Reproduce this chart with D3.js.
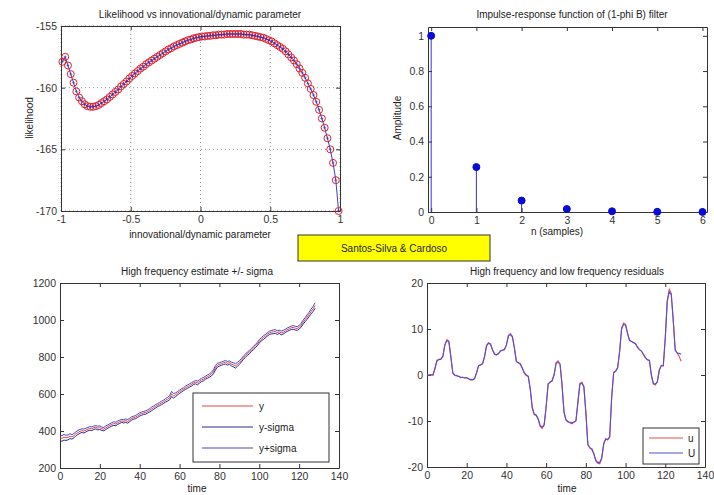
<!DOCTYPE html>
<html>
<head>
<meta charset="utf-8">
<script src="https://cdn.jsdelivr.net/npm/d3@7"></script>
<style>
  body { margin: 0; background: #fff; }
  svg { font-family: "Liberation Sans", Arial, sans-serif; }
  .tick text { fill: #333; font-size: 10.5px; }
  .ttl { font-size: 10px; fill: #222; }
</style>
</head>
<body>
<svg width="714" height="495"></svg>
<script>
// likelihood at parameter = -0.99, -0.97, ..., 0.99
let likelihood = [
  -157.9, -157.5, -158.2, -158.9, -159.6, -160.3, -160.8, -161.1, -161.35, -161.5,
  -161.55, -161.55, -161.5, -161.4, -161.25, -161.1, -160.95, -160.75, -160.55, -160.35,
  -160.15, -159.9, -159.7, -159.5, -159.25, -159.05, -158.85, -158.65, -158.45, -158.3,
  -158.1, -157.95, -157.8, -157.65, -157.5, -157.35, -157.2, -157.05, -156.9, -156.8,
  -156.65, -156.55, -156.45, -156.35, -156.25, -156.15, -156.1, -156.0, -155.95, -155.9,
  -155.85, -155.85, -155.8, -155.8, -155.75, -155.75, -155.7, -155.7, -155.7, -155.65,
  -155.65, -155.65, -155.65, -155.65, -155.65, -155.7, -155.7, -155.7, -155.75, -155.8,
  -155.85, -155.9, -155.95, -156.05, -156.15, -156.25, -156.4, -156.55, -156.7, -156.85,
  -157.05, -157.3, -157.55, -157.8, -158.1, -158.45, -158.8, -159.2, -159.65, -160.1,
  -160.6, -161.15, -161.8, -162.5, -163.25, -164.1, -165.0, -166.1, -167.5, -170.0
];
let paramStart = -0.99;
let paramStep = 0.02;

let samples = [0, 1, 2, 3, 4, 5, 6];
let impulse = [1, 0.255, 0.065, 0.017, 0.004, 0.001, 0.0003];

// time = 0..128
let yEst = [
  362, 360, 366, 363, 365, 372, 368, 375, 385, 392, 398, 402, 400, 405, 410, 414, 412, 418, 420, 416,
  418, 412, 410, 418, 424, 430, 436, 440, 438, 445, 450, 455, 452, 456, 452, 460, 468, 472, 476, 482,
  490, 494, 498, 500, 506, 512, 520, 526, 534, 540, 546, 552, 558, 566, 572, 580, 600, 590, 596, 604,
  612, 620, 626, 634, 640, 646, 652, 660, 664, 660, 668, 676, 680, 688, 694, 700, 708, 720, 742, 756,
  760, 764, 768, 772, 766, 770, 762, 758, 752, 760, 770, 782, 796, 806, 818, 826, 838, 848, 858, 870,
  884, 896, 904, 912, 922, 930, 934, 936, 938, 932, 936, 930, 934, 940, 948, 952, 958, 960, 956, 954,
  960, 972, 988, 1002, 1016, 1030, 1046, 1060, 1078
];
let sigma = [
  16, 15, 15, 14, 13, 13, 12, 12, 11, 11, 10, 10, 11, 10, 9, 10, 10, 9, 9, 10,
  10, 9, 9, 10, 9, 9, 9, 10, 9, 9, 9, 8, 9, 9, 10, 9, 9, 8, 9, 9,
  9, 9, 8, 9, 9, 9, 10, 9, 9, 8, 9, 9, 9, 9, 10, 11, 14, 12, 10, 9,
  9, 9, 8, 9, 9, 9, 9, 8, 9, 10, 9, 9, 9, 8, 9, 9, 10, 11, 12, 10,
  9, 9, 9, 10, 10, 9, 10, 11, 12, 11, 10, 9, 9, 9, 9, 9, 8, 9, 9, 9,
  9, 9, 10, 9, 9, 9, 9, 10, 10, 10, 9, 10, 10, 9, 9, 9, 9, 10, 10, 10,
  10, 10, 11, 11, 12, 12, 13, 14, 15
];

let uHigh = [
  0, 0, 0.1, 0, 1.3, 3.0, 3.4, 3.5, 4.2, 6.6, 7.7, 7.4, 4.0, 0.4, -0.1, -0.2, -0.3, -0.6, -0.5, -0.7,
  -0.6, -0.9, -1.1, -1.1, -0.7, 0.6, 2.1, 2.2, 2.5, 4.1, 6.5, 7.0, 6.7, 5.4, 4.5, 4.3, 4.7, 5.3, 5.4, 5.6,
  6.6, 8.6, 9.0, 8.4, 5.8, 2.9, 2.7, 2.4, 1.4, 0.4, -0.1, -0.3, -3.2, -7.2, -8.6, -8.8, -9.7, -11.2, -11.6, -10.9,
  -6.8, -1.9, -1.6, -1.2, 0.1, 2.7, 3.1, 2.4, -2.2, -8.2, -9.9, -10.2, -10.4, -10.6, -10.3, -9.9, -5.8, -1.8, -1.6, -2.6,
  -8.3, -15.2, -15.9, -16.2, -17.2, -18.7, -19.2, -19.3, -18.1, -14.8, -13.8, -14.1, -13.4, -4.8, 0.6, 0.9, 1.6, 5.2, 10.2, 11.3,
  11.0, 9.1, 7.6, 7.3, 7.1, 6.8, 6.1, 5.5, 5.2, 4.4, 3.7, 3.3, 3.1, -0.2, -2.0, -2.2, -1.4, 1.2, 2.1, 2.0,
  8.2, 16.3, 18.6, 17.8, 11.8, 5.3, 4.8, 4.0, 3.0
];
let uLow = [
  0, 0, 0, 0, 1.5, 3.2, 3.3, 3.4, 4.0, 6.5, 7.5, 7.2, 4.0, 0.5, 0.0, -0.1, -0.3, -0.5, -0.5, -0.6,
  -0.6, -0.8, -1.0, -1.0, -0.8, 0.5, 2.0, 2.2, 2.4, 4.0, 6.3, 6.9, 6.7, 5.5, 4.6, 4.4, 4.6, 5.2, 5.4, 5.5,
  6.5, 8.5, 8.8, 8.3, 6.0, 3.0, 2.6, 2.4, 1.5, 0.5, 0.0, -0.3, -3.0, -7.0, -8.5, -8.7, -9.5, -11.0, -11.3, -10.8,
  -7.0, -2.0, -1.5, -1.3, 0.0, 2.5, 2.8, 2.3, -2.0, -8.0, -9.7, -10.1, -10.3, -10.4, -10.2, -10.0, -6.0, -2.0, -1.8, -2.5,
  -8.0, -15.0, -15.8, -16.0, -17.0, -18.5, -19.0, -19.0, -18.0, -15.0, -14.0, -14.0, -13.5, -5.0, 0.5, 0.8, 1.5, 5.0, 10.0, 11.0,
  10.8, 9.0, 7.5, 7.3, 7.0, 6.8, 6.0, 5.5, 5.2, 4.5, 3.8, 3.3, 3.2, 0.0, -1.8, -2.0, -1.5, 1.0, 2.0, 2.0,
  8.0, 16.0, 18.0, 17.5, 12.0, 5.5, 4.8, 4.7, 4.5
];

let svg = d3.select('svg');

// plain hyphen minus, like the original figure
let fmt = d => d3.format('~g')(d).replace('\u2212', '-');

// one MATLAB-like axes box: inward ticks on all four sides
function makeAxes(left, top, width, height, xDom, yDom, xTicks, yTicks, grid) {
    let g = svg.append('g').attr('transform', `translate(${left}, ${top})`);
    let x = d3.scaleLinear().domain(xDom).range([0, width]);
    let y = d3.scaleLinear().domain(yDom).range([height, 0]);

    g.append('rect').attr('width', width).attr('height', height)
        .attr('fill', '#fff');

    if (grid) {
        g.append('g').selectAll('line').data(xTicks).enter().append('line')
            .attr('x1', d => x(d)).attr('x2', d => x(d))
            .attr('y1', 0).attr('y2', height)
            .attr('stroke', '#777').attr('stroke-width', 0.8).attr('stroke-dasharray', '1,3');
        g.append('g').selectAll('line').data(yTicks).enter().append('line')
            .attr('x1', 0).attr('x2', width)
            .attr('y1', d => y(d)).attr('y2', d => y(d))
            .attr('stroke', '#777').attr('stroke-width', 0.8).attr('stroke-dasharray', '1,3');
    }

    let axes = [
        g.append('g').attr('transform', `translate(0, ${height})`)
            .call(d3.axisBottom(x).tickValues(xTicks).tickFormat(fmt).tickSizeInner(-4).tickSizeOuter(0).tickPadding(5)),
        g.append('g')
            .call(d3.axisTop(x).tickValues(xTicks).tickFormat('').tickSizeInner(-4).tickSizeOuter(0)),
        g.append('g')
            .call(d3.axisLeft(y).tickValues(yTicks).tickFormat(fmt).tickSizeInner(-4).tickSizeOuter(0).tickPadding(4)),
        g.append('g').attr('transform', `translate(${width}, 0)`)
            .call(d3.axisRight(y).tickValues(yTicks).tickFormat('').tickSizeInner(-4).tickSizeOuter(0))
    ];
    axes.forEach(a => {
        a.selectAll('path, line').attr('stroke', '#333');
        a.selectAll('text').attr('font-family', null).attr('font-size', null);
    });
    let plot = g.append('g');
    return { g: g, plot: plot, x: x, y: y, width: width, height: height };
}

function label(text, x, y, rotate) {
    let t = svg.append('text').attr('class', 'ttl').attr('text-anchor', 'middle').text(text);
    if (rotate) {
        t.attr('transform', `translate(${x}, ${y}) rotate(-90)`);
    } else {
        t.attr('x', x).attr('y', y);
    }
}

// ---- top left: likelihood
let a1 = makeAxes(61, 26, 279, 185, [-1, 1], [-170, -155], [-1, -0.5, 0, 0.5, 1], [-170, -165, -160, -155], true);
let likePts = likelihood.map((v, i) => ({ p: paramStart + i * paramStep, v: v }));
a1.plot.append('path')
    .datum(likePts)
    .attr('fill', 'none').attr('stroke', '#2a2ab8').attr('stroke-width', 0.9)
    .attr('d', d3.line().x(d => a1.x(d.p)).y(d => a1.y(d.v)));
a1.plot.selectAll('circle').data(likePts).enter().append('circle')
    .attr('cx', d => a1.x(d.p)).attr('cy', d => a1.y(d.v)).attr('r', 3.5)
    .attr('fill', 'none').attr('stroke', '#e0202a').attr('stroke-width', 1);
a1.plot.selectAll('path.plus').data(likePts).enter().append('path')
    .attr('class', 'plus')
    .attr('d', d => `M${a1.x(d.p) - 1.5},${a1.y(d.v)}h3M${a1.x(d.p)},${a1.y(d.v) - 1.5}v3`)
    .attr('stroke', '#2a2ab8').attr('stroke-width', 0.6);
label('Likelihood vs innovational/dynamic parameter', 200, 18);
label('innovational/dynamic parameter', 200, 238);
label('likelihood', 33, 118, true);

// ---- top right: impulse response (stem)
let a2 = makeAxes(428, 27, 279, 185, [-0.07, 6.1], [0, 1.05], samples, [0, 0.2, 0.4, 0.6, 0.8, 1], false);
let stems = a2.plot.selectAll('g').data(samples).enter().append('g');
stems.append('line')
    .attr('x1', d => a2.x(d)).attr('x2', d => a2.x(d))
    .attr('y1', a2.y(0)).attr('y2', (d, i) => a2.y(impulse[i]))
    .attr('stroke', '#3333cc').attr('stroke-width', 1);
stems.append('circle')
    .attr('cx', d => a2.x(d)).attr('cy', (d, i) => a2.y(impulse[i])).attr('r', 3.5)
    .attr('fill', '#0a0ad8').attr('stroke', '#0a0ad8');
label('Impulse-response function of (1-phi B) filter', 572, 18);
label('n (samples)', 557, 235);
label('Amplitude', 401, 118, true);

// ---- yellow note
svg.append('rect').attr('x', 298).attr('y', 235).attr('width', 192).attr('height', 26)
    .attr('fill', '#ffff00').attr('stroke', '#333').attr('stroke-width', 1);
svg.append('text').attr('class', 'ttl').attr('x', 394).attr('y', 252)
    .attr('text-anchor', 'middle').text('Santos-Silva & Cardoso');

// ---- bottom left: high frequency estimate
let a3 = makeAxes(60, 283, 279, 185, [0, 140], [200, 1200], [0, 20, 40, 60, 80, 100, 120, 140], [200, 400, 600, 800, 1000, 1200], false);
let lineBL = d3.line().x((d, i) => a3.x(i)).y(d => a3.y(d));
let bl = [
    { name: 'y', vals: yEst, color: '#e04848' },
    { name: 'y-sigma', vals: yEst.map((v, i) => v - sigma[i]), color: '#2a2a90' },
    { name: 'y+sigma', vals: yEst.map((v, i) => v + sigma[i]), color: '#4848c8' }
];
bl.forEach(s => {
    a3.plot.append('path').datum(s.vals)
        .attr('fill', 'none').attr('stroke', s.color).attr('stroke-width', 1)
        .attr('d', lineBL);
});
let leg1 = svg.append('g').attr('transform', 'translate(193, 393)');
leg1.append('rect').attr('width', 136).attr('height', 69).attr('fill', '#fff').attr('stroke', '#333');
bl.forEach((s, i) => {
    leg1.append('line').attr('x1', 9).attr('x2', 60).attr('y1', 13 + i * 21).attr('y2', 13 + i * 21)
        .attr('stroke', s.color).attr('stroke-width', 1.2);
    leg1.append('text').attr('class', 'ttl').attr('x', 66).attr('y', 17 + i * 21).text(s.name);
});
label('High frequency estimate +/- sigma', 197, 275);
label('time', 197, 492);

// ---- bottom right: residuals
let a4 = makeAxes(427, 283, 278, 184, [0, 140], [-20, 20], [0, 20, 40, 60, 80, 100, 120, 140], [-20, -10, 0, 10, 20], false);
let lineBR = d3.line().x((d, i) => a4.x(i)).y(d => a4.y(d));
let br = [
    { name: 'u', vals: uHigh, color: '#e85050' },
    { name: 'U', vals: uLow, color: '#5050d8' }
];
br.forEach(s => {
    a4.plot.append('path').datum(s.vals)
        .attr('fill', 'none').attr('stroke', s.color).attr('stroke-width', 1.1)
        .attr('d', lineBR);
});
let leg2 = svg.append('g').attr('transform', 'translate(643, 428)');
leg2.append('rect').attr('width', 56).attr('height', 36).attr('fill', '#fff').attr('stroke', '#333');
br.forEach((s, i) => {
    leg2.append('line').attr('x1', 6).attr('x2', 40).attr('y1', 10 + i * 15).attr('y2', 10 + i * 15)
        .attr('stroke', s.color).attr('stroke-width', 1.2);
    leg2.append('text').attr('class', 'ttl').attr('x', 45).attr('y', 14 + i * 15).text(s.name);
});
label('High frequency and low frequency residuals', 567, 275);
label('time', 567, 492);
</script>
</body>
</html>
